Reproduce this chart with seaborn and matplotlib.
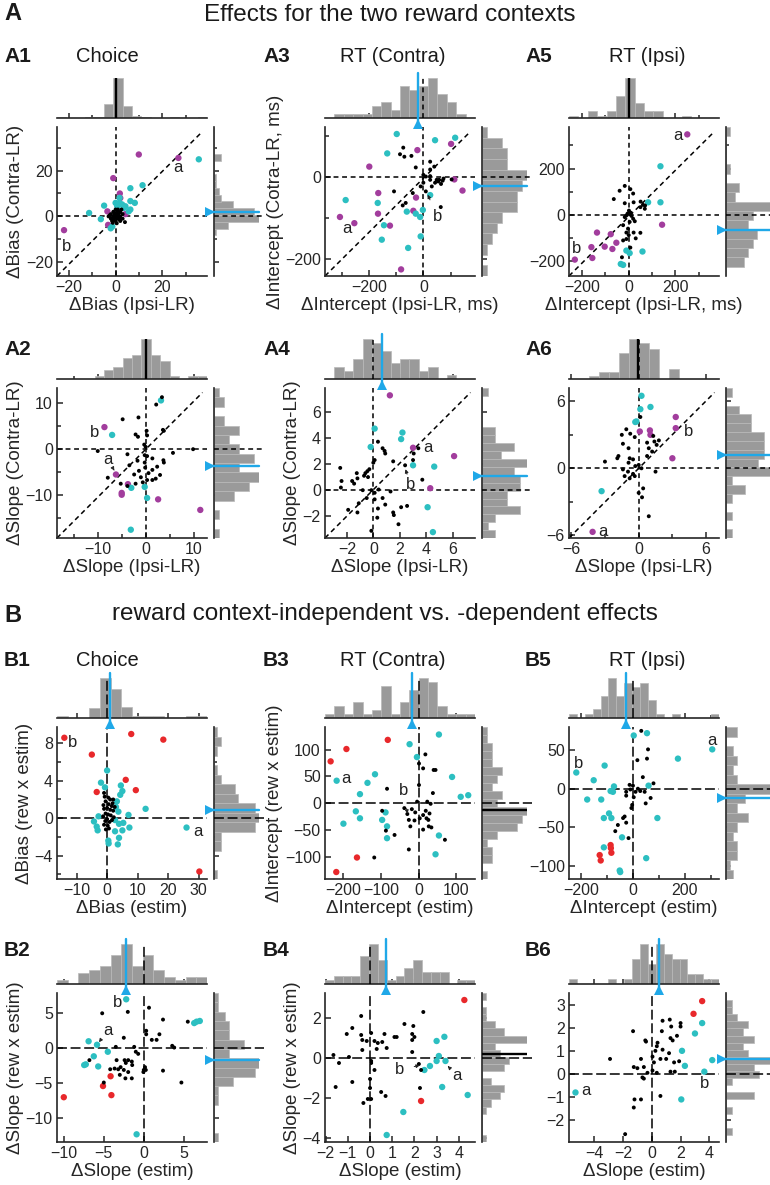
"""
Scatter panels with marginal histograms: reward-context effects (A) and
reward context-independent vs. -dependent effects (B).
"""

import matplotlib
matplotlib.use("Agg")
import matplotlib.pyplot as plt
import matplotlib.transforms as mtransforms
from matplotlib.ticker import FixedLocator, MultipleLocator, NullLocator
import seaborn as sns
import pandas as pd

FIG_W, FIG_H = 770, 1185

CYAN = "#2cbfc1"
MAGENTA = "#a23d9d"
RED = "#e8282b"
BLUE = "#1fa8e8"
GRAY = "#9a9a9a"
EDGE = "#b8b8b8"

# ---------------------------------------------------------------- data
a1_black = [(-1, 0), (0, 1), (1, -1), (-2, 1), (2, 2), (0, -2), (-1, -1), (1, 1), (0.5, 0), (-0.5, 0.5),
            (3, -1), (2, -2), (-3, 0), (1, 3), (0, 3), (-1, 2), (2, 0), (-2, -1), (0.5, -3), (1.5, -0.5),
            (-1.5, -2), (4, -2.5), (3, 1), (-0.5, 1.5), (0.3, -0.7), (1.2, 0.8), (-2.5, 0.5), (0.8, 2.2),
            (-0.8, -0.3), (1.8, -1.5), (0, 0), (-1.2, -2.8), (2.5, 3)]
a1_cyan = [(35.5, 24.9), (11.5, 13.6), (6.3, 12.3), (-11.3, 1.5), (-4.9, 4.7), (-6.3, -1.2), (1.7, 8.1),
           (1.7, 5.9), (4.2, 4.4), (6.3, 6.7), (8.2, 5.9), (6.3, 3), (5.6, 2.2), (0.7, 4.4), (0, 5.9),
           (-1.4, -4.4), (-2.1, -5.2), (2.8, 5.2), (3.5, 3.7)]
a1_magenta = [(9.9, 27), (26.8, 25.5), (-1, 16.7), (-22, -6), (1.8, 10), (-3.5, 2.2), (-3.2, -3.7),
              (4.2, 1), (2, 8)]

a2_black = [(3.4, 11.2), (2.2, 9.6), (-4.8, 6.4), (-1.5, 6.8), (-2.1, 3.1), (-1.6, 2.6), (0.2, 3.9),
            (0.3, 2.9), (3.6, 4.1), (3.8, 3.9), (-10, -0.5), (5.7, -0.9), (9.9, -0.1), (-3.8, -1.2),
            (-0.2, -1.4), (0.3, -1.6), (-0.2, -3), (-3.4, -3.6), (-1.7, -2.6), (1.4, -2.1), (3.7, -2.5),
            (3.8, -3), (2.4, -3.9), (-0.1, -4.1), (1.4, -4.6), (-1.4, -4.8), (0.6, -5.3), (3, -5.7),
            (-2.4, -5.6), (-1, -6.2), (0.3, -6.8), (1.4, -6.8), (2.1, -6.5), (-7.9, -6.3), (-5.2, -7.6),
            (-0.6, -7.3), (-2.1, -7.6), (-3.8, -8.1), (-0.3, 0.9), (0, 0.4)]
a2_cyan = [(-7, 3), (3.2, 10.5), (-3, -8.5), (-0.2, -8.3), (0.3, -10.7), (-3.1, -17.6)]
a2_magenta = [(-8.6, 4.7), (-6.2, -5.6), (-3.7, -7.7), (-5, -10), (-5, -9.6), (2.6, -11), (11.4, -13.3)]

a3_black = [(-74, 71), (-86, 55), (-70, 49), (-44, 51), (25, 37), (40, 25), (-28, 23), (25, 18), (0, 5),
            (9, 1), (25, 2), (0, -14), (25, -7), (49, -7), (55, -11), (65, -17), (58, -7), (71, -9),
            (74, -4), (104, -6), (31, -23), (9, -35), (-39, -39), (-108, -35), (-65, -63), (-76, -69),
            (64, -73), (-10, -23), (43, -14)]
a3_cyan = [(-98, 104), (43, 89), (117, 95), (-133, 57), (-286, -56), (-168, -63), (25, -44), (-61, -84),
           (-28, -89), (-12, -97), (-2, -80), (-145, -117), (-153, -152), (-10, -144), (-56, -172)]
a3_magenta = [(102, 80), (-199, 25), (-22, 65), (114, -6), (144, -33), (-166, -39), (-167, -89),
              (-307, -97), (-254, -112), (-123, -118), (-27, -50), (-37, -82), (-82, -224)]

a4_black = [(0.35, 3.7), (0.7, 3.2), (0.85, 3), (0.9, 2.8), (3.4, 3.2), (3.05, 2.8), (3, 2.3), (1.5, 2.2),
            (0.1, 2.3), (0, 2.1), (2.4, 1.9), (3.7, 0.8), (-2.5, 1.7), (-1.25, 1.3), (-0.6, 1.3),
            (-0.45, 1.45), (-0.3, 1.6), (-0.7, 1.1), (-0.4, 1), (-1.2, 0.9), (-2.4, 0.7), (-1.6, 0.7),
            (-1.45, 0.5), (-2.45, 0.2), (-0.8, 0), (-0.15, 0), (0.1, -0.2), (0.4, 0.05), (1.3, -0.1),
            (0.7, -0.6), (0.9, -1.1), (1.5, -1.7), (1.55, -1.9), (2.1, -1.3), (2.55, -1.2), (-1.9, -1.5),
            (-1.2, -1.7), (-1.1, -1), (0.3, -2.1), (1.9, -2.6), (-0.15, -3.1), (0.1, -0.7), (0.35, -1.4),
            (-0.5, -0.6)]
a4_cyan = [(0.1, 4.7), (2.2, 4.4), (2.1, 3.9), (-0.2, 3.3), (3, 1.9), (4.6, 1.8), (4.1, -1.3), (4.5, -3.2)]
a4_magenta = [(1.25, 7.24), (3, 3.24), (6.1, 2.6), (4.3, 0.15)]

a5_black = [(-17, 125), (-39, 104), (7, 111), (19, 92), (-64, 68), (-17, 50), (21, 54), (51, 57), (61, 43),
            (50, 33), (69, 26), (1, 18), (9, 9), (-10, -3), (-17, -10), (19, -17), (26, -28), (4, -31),
            (-24, -45), (-3, -60), (-10, -77), (21, -77), (50, -78), (30, -102), (0, -88), (-10, -105),
            (-24, -111), (7, -142), (-29, -184), (70, 40), (-5, 5), (12, -5)]
a5_cyan = [(136, 210), (83, 54), (136, 54), (-10, -155), (4, -166), (59, -159), (-34, -213), (-24, -217)]
a5_magenta = [(251, 348), (-231, -194), (-156, -187), (-160, -140), (-136, -77), (-103, -138), (-77, -84),
              (-70, -148), (-53, -121), (143, -43)]

a6_black = [(0.15, 4.6), (-1.5, 3), (-1.1, 3.5), (-0.75, 3.1), (-0.35, 2.8), (-1.4, 2.2), (-0.9, 1.8),
            (0.75, 2.3), (0.9, 1.8), (1.4, 2.4), (1.8, 2.5), (1.6, 2.1), (1.2, 1.5), (0.75, 1.1), (-1.8, 1.1),
            (-1.9, 0.9), (-3, 0.6), (-0.8, 0.9), (-0.5, 0.8), (-0.9, 0.5), (0, 0.3), (-0.3, 0.2), (0.25, 0),
            (-1.4, -0.1), (-0.95, -0.3), (-1.25, -0.7), (-0.8, -0.9), (-0.35, -0.7), (-0.5, -0.5),
            (1.5, -0.3), (0.4, -1.8), (0.3, -2.6), (0, -2.2), (0.9, -4.3), (1.3, 2.9)]
a6_cyan = [(0.25, 6.5), (0.15, 5.3), (1.05, 5.5), (-0.3, 4.15), (-0.2, 4.2), (-3.3, -2.05)]
a6_magenta = [(3.3, 4.6), (3.3, 3.6), (0.1, 3.3), (1, 3.4), (1.05, 3), (3, 0.9), (-4.1, -5.7)]

b1_black = [(-1, 2.7), (1, 2), (2, 2), (-0.5, 1.8), (0.5, 1.5), (1.5, 1.3), (-1, 1), (0, 1.1), (1, 0.9),
            (2, 0.8), (-0.5, 0.5), (0.3, 0.4), (1.2, 0.3), (-1.3, 0.2), (2.2, 0.1), (0, -0.1), (-0.6, -0.3),
            (0.8, -0.4), (1.6, -0.2), (-1, -0.7), (0.2, -0.8), (-0.4, -1.2), (0.6, -1.1), (-0.8, 2.3),
            (0.4, 2.2), (1.8, 1.6), (-1.2, 1.4), (2.5, 1.2)]
b1_cyan = [(0, 5.1), (-2, 3.8), (-0.7, 3.3), (4.5, 3.5), (5, 2.9), (4.3, 2.5), (3.2, 1.8), (2.9, 1.2),
           (3.7, 0.7), (7, 0.35), (12.6, 1), (-2.8, 0.2), (-4.3, -0.35), (-3.4, -0.9), (-3.1, -1.3),
           (2.6, -0.2), (3.9, -0.6), (5.3, -0.5), (7.3, -1), (5, -1.3), (2.6, -1.4), (3.9, -2.1),
           (0.4, -2.4), (26, -1), (0.5, -2.7), (3.5, -2.8)]
b1_red = [(-14, 8.6), (7.9, 9), (18.4, 8.4), (-5, 6.8), (6.1, 4.1), (-3.4, 2.8), (9.4, 3), (30.2, -5.7)]

b2_black = [(-5.2, 4.9), (-2, 5.1), (0.65, 5.7), (2.4, 4), (0.3, 2.4), (0.3, 1.9), (1.95, 1.9), (1, 1.1),
            (1.6, 1.1), (5.5, 3.7), (-2.5, 1.4), (-3.5, 0.1), (-1.2, 0.1), (-1, -0.6), (-0.7, -0.9),
            (3.55, 0.25), (3.8, 0), (-6.8, -1.8), (-3.4, -1.8), (-2.4, -1.8), (-1.95, -1.8), (-1.5, -2),
            (-2.25, -2.2), (-1.45, -2.5), (-2.9, -2.8), (-3.65, -3), (-4.2, -3.1), (-3.2, -3.1), (-2.5, -3.2),
            (-1.95, -3.5), (-1.5, -4.4), (-2.3, -4.4), (-3, -3.9), (0, -3.2), (0.15, -2.8), (0.25, -3.2),
            (-0.05, -3.5), (2.4, -3.3), (4.7, -5), (-5, -5)]
b2_cyan = [(-2.2, 6.9), (-6.9, 0.9), (-5.85, 0.4), (-4.5, -0.6), (-6.25, -1.25), (-7.25, -2.4),
           (-7.45, -2.5), (-5.7, -2.7), (-0.9, -12.4), (6.3, 3.5), (6.6, 3.7), (7, 3.8)]
b2_red = [(-10, -7.1), (-5.1, -5.5), (-4.15, -4.1), (-4.05, -6.8)]

b3_black = [(18, 91), (1, 74), (12, 65), (40, 62), (45, 62), (1, 34), (-84, 27), (38, 19), (-4, 3), (23, 3),
            (32, -1), (-18, -11), (-38, -9), (-97, -14), (-30, -20), (-9, -17), (19, -14), (12, -22),
            (29, -19), (21, -28), (26, -31), (-26, -31), (-11, -32), (3, -28), (-22, -43), (12, -49),
            (27, -43), (34, -45), (-87, -51), (-64, -59), (70, -68), (-118, -101), (-26, -86)]
b3_cyan = [(54, 128), (-24, 110), (-4.5, 86), (-218, 42), (-116, 54), (-136, 38), (-156, 17), (89, 49),
           (112, 12), (132, 15), (-167, -15), (-156, -28), (-200, -38), (-88, -17), (-97, -31), (-84, -43),
           (-84, -65), (54, -60), (45, -95)]
b3_red = [(-234, 78), (-192, 101), (-82, 118), (-219, -128), (-164, -101)]

b4_black = [(2.4, 2.3), (-0.4, 2.1), (1.55, 1.7), (1.95, 1.6), (-0.8, 1.5), (-1.05, 1.2), (-0.4, 1.15),
            (0.05, 1.25), (0.65, 1.2), (1.1, 1.05), (1.2, 1.05), (1.9, 1.2), (2, 1.05), (1.9, 0.9),
            (-0.35, 0.9), (-0.15, 0.85), (0.2, 0.85), (0.35, 0.75), (0.55, 0.8), (0.3, 0.45), (0.75, 0.5),
            (-0.35, 0.4), (1.9, 0.3), (-1.65, 0.15), (-0.95, 0.05), (-1.4, -0.25), (0.05, -0.15),
            (0.05, -0.25), (0.2, -0.6), (2.2, -0.3), (2.3, -0.6), (-0.8, -1.2), (-1.55, -1.45), (2.25, -1.5),
            (0, -1.5), (-0.1, -2.05), (0.05, -2.05), (0.5, -1.7), (0.7, -1.9), (-0.3, -2.25), (0, -1.05)]
b4_cyan = [(3.35, 1.06), (3, 0.85), (3.1, 0.1), (3.4, -0.15), (3, -0.15), (2.7, -0.4), (2.45, -0.6),
           (3.25, -1.45), (4.4, -1.85), (1.5, -2.7), (0.75, -3.85)]
b4_red = [(4.25, 2.9), (2.3, -2.15)]

b5_black = [(32, 75), (58, 51), (54, 39), (17, 37), (38, 15), (79, 7), (-13, 5), (0, 4), (19, 0), (-26, -4),
            (-10, -1), (10, -4), (28, -3), (45, -4), (-26, -9), (3, -11), (68, -12), (49, -19), (-3, -21),
            (-6, -25), (-32, -36), (-38, -38), (-26, -44), (-68, -55), (-17, -64), (-58, -47)]
b5_cyan = [(305, 51), (173, 39), (3, 69), (54, 72), (-218, 21), (-109, 30), (-151, 11), (-176, -14),
           (-122, -14), (-73, 3), (-86, -3), (-77, -4), (60, 4), (94, -38), (-92, -32), (-112, -38),
           (-83, -38), (-42, -63), (-112, -76), (51, -90), (-51, -106), (-49, -108)]
b5_red = [(-86, -73), (-83, -83), (-128, -86), (-124, -93), (-85, -77)]

b6_black = [(0.75, 2.3), (1.25, 2.35), (1.35, 2.05), (2, 2.2), (2, 2.05), (1.75, 1.65), (1.3, 1.55),
            (1.45, 1.45), (0.7, 1.85), (-1.3, 1.85), (-0.45, 1.45), (-0.4, 1.4), (0.4, 1.35), (0.35, 1.2),
            (0.25, 1), (0.75, 1.05), (1.2, 0.9), (1.9, 0.55), (1.55, 0.5), (1, 0.65), (0.05, 0.75),
            (0.15, 0.5), (0.6, 0.65), (-0.75, 0.65), (-2.9, 0.65), (-1.25, 0.3), (-1, 0.25), (-0.55, 0.3),
            (-0.3, 0.05), (-0.65, -0.15), (-0.55, -0.2), (0.05, 0.15), (0.35, 0.05), (1.3, 0.1), (1.6, 0.1),
            (-1.2, -1.1), (-0.75, -1.1), (-1.25, -1.45), (0.6, -0.95), (-1.85, -2.6)]
b6_cyan = [(3.5, 2.2), (3, 1.75), (2.1, 1), (2.3, 0.35), (4.2, 0.6), (3.65, 0.1), (2.05, -1.1), (-5.3, -0.8)]
b6_red = [(3.5, 3.15), (2.9, 2.6)]

panel_names = ["A1", "A2", "A3", "A4", "A5", "A6", "B1", "B2", "B3", "B4", "B5", "B6"]
black_pts = [a1_black, a2_black, a3_black, a4_black, a5_black, a6_black,
             b1_black, b2_black, b3_black, b4_black, b5_black, b6_black]
cyan_pts = [a1_cyan, a2_cyan, a3_cyan, a4_cyan, a5_cyan, a6_cyan,
            b1_cyan, b2_cyan, b3_cyan, b4_cyan, b5_cyan, b6_cyan]
accent_pts = [a1_magenta, a2_magenta, a3_magenta, a4_magenta, a5_magenta, a6_magenta,
              b1_red, b2_red, b3_red, b4_red, b5_red, b6_red]

# population means shown on the marginal histograms (blue = significant)
top_means = [0.3, 0, -21, 0.63, 0, -0.1, 1.0, -2.2, -17, 0.7, -26, 0.5]
top_signif = [False, False, True, True, False, False, True, True, True, True, True, True]
side_means = [1.9, -3.7, -23, 1.1, -64, 1.15, 0.85, -1.8, -13, 0.2, -12, 0.65]
side_signif = [True, True, True, True, True, True, True, True, False, False, True, True]

x_labels = ["ΔBias (Ipsi-LR)", "ΔSlope (Ipsi-LR)", "ΔIntercept (Ipsi-LR, ms)", "ΔSlope (Ipsi-LR)",
            "ΔIntercept (Ipsi-LR, ms)", "ΔSlope (Ipsi-LR)",
            "ΔBias (estim)", "ΔSlope (estim)", "ΔIntercept (estim)", "ΔSlope (estim)",
            "ΔIntercept (estim)", "ΔSlope (estim)"]
y_labels = ["ΔBias (Contra-LR)", "ΔSlope (Contra-LR)", "ΔIntercept (Cotra-LR, ms)", "ΔSlope (Contra-LR)",
            "", "", "ΔBias (rew x estim)", "ΔSlope (rew x estim)", "ΔIntercept (rew x estim)",
            "ΔSlope (rew x estim)", "", ""]
col_titles = ["Choice", "RT (Contra)", "RT (Ipsi)"]

x_ticks = [[-20, 0, 20], [-10, 0, 10], [-200, 0], [-2, 0, 2, 4, 6], [-200, 0, 200], [-6, 0, 6],
           [-10, 0, 10, 20, 30], [-10, -5, 0, 5], [-200, -100, 0, 100], [-2, -1, 0, 1, 2, 3, 4],
           [-200, 0, 200], [-4, -2, 0, 2, 4]]
y_ticks = [[-20, 0, 20], [-10, 0, 10], [-200, 0], [-2, 0, 2, 4, 6], [-200, 0, 200], [-6, 0, 6],
           [-4, 0, 4, 8], [-10, -5, 0, 5], [-100, -50, 0, 50, 100], [-4, -2, 0, 2],
           [-100, -50, 0, 50], [-2, -1, 0, 1, 2, 3]]
x_minor = [10, 5, 100, None, 100, 3, None, None, None, None, 100, None]
y_minor = [10, 5, 100, None, 100, 3, 2, None, None, None, None, None]

x_lims = [(-25, 39), (-18.5, 12.8), (-362, 190), (-3.65, 7.68), (-256, 387), (-6.2, 7.15),
          (-16.4, 32.7), (-10.85, 7.9), (-249, 150), (-2.03, 4.73), (-246, 331), (-5.75, 4.67)]
y_lims = [(-26, 39), (-19.4, 13.2), (-240, 121), (-3.65, 7.8), (-265, 380), (-6.25, 7.2),
          (-6.5, 9.75), (-13.5, 7.8), (-141, 142), (-4.2, 3.25), (-117, 80), (-2.94, 3.5)]
x_binw = [4, 2, 35, 0.7, 40, 0.9, 3.5, 1.3, 25, 0.4, 30, 0.55]
y_binw = [3, 2, 25, 0.6, 40, 0.8, 1, 1.3, 15, 0.35, 12, 0.3]

# letter annotations: (letter, text x, text y, arrow target or None)
notes = {
    "A1": [("a", 26.8, 21.5, None), ("b", -21, -13.3, None)],
    "A2": [("b", -10.7, 3.6, None), ("a", -7.9, -2.3, (-6.4, -5.0))],
    "A3": [("a", -282, -124, None), ("b", 52, -97, (14, -40))],
    "A4": [("a", 4.1, 3.25, None), ("b", 2.8, 0.4, (2.4, 1.7))],
    "A5": [("a", 209, 343, None), ("b", -224, -148, None)],
    "A6": [("a", -3.2, -5.65, None), ("b", 4.4, 3.3, None)],
    "B1": [("b", -11.2, 8.05, None), ("a", 29.7, -1.4, None)],
    "B2": [("b", -3.3, 6.5, None), ("a", -4.5, 2.5, (-5.7, 0.6))],
    "B3": [("a", -194, 46, None), ("b", -40, 23, (-29, -22))],
    "B4": [("b", 1.33, -0.6, (2.3, -0.35)), ("a", 3.9, -0.85, (3.5, -0.4))],
    "B5": [("a", 303, 63, None), ("b", -209, 33, None)],
    "B6": [("a", -4.6, -0.73, None), ("b", 3.7, -0.4, None)],
}

# ---------------------------------------------------------------- layout (pixels)
COL_LEFT = [57, 325, 569]
ROW_TOP = [127, 388, 727, 993]
ROW_H = [149, 150, 152, 149]
COL_TEXT_X = [107, 393, 647]
LABEL_X = [4, 263, 525]


def setup_style():
    sns.set_style("ticks")
    plt.rcParams["font.family"] = ["Liberation Sans", "DejaVu Sans"]
    plt.rcParams["axes.linewidth"] = 1.2
    plt.rcParams["text.color"] = "#1a1a1a"


def add_axes_px(fig, left, top, width, height, **kw):
    return fig.add_axes([left / FIG_W, 1 - (top + height) / FIG_H, width / FIG_W, height / FIG_H], **kw)


def draw_panel(fig, i):
    name = panel_names[i]
    section_b = name.startswith("B")
    col = (i % 6) // 2
    row = (i // 6) * 2 + (i % 2)
    left, top, h = COL_LEFT[col], ROW_TOP[row], ROW_H[row]
    dash = (0, (6.5, 2.4)) if section_b else (0, (3.2, 2.4))
    accent = RED if section_b else MAGENTA

    ax = add_axes_px(fig, left, top, 150, h)
    ax_top = add_axes_px(fig, left, top - 49, 150, 40, sharex=ax)
    ax_side = add_axes_px(fig, left + 157, top, 45, h, sharey=ax)

    df = pd.concat([
        pd.DataFrame(accent_pts[i], columns=["x", "y"]).assign(group="accent"),
        pd.DataFrame(cyan_pts[i], columns=["x", "y"]).assign(group="cyan"),
        pd.DataFrame(black_pts[i], columns=["x", "y"]).assign(group="black"),
    ], ignore_index=True)

    sns.scatterplot(data=df, x="x", y="y", hue="group", size="group",
                    palette={"accent": accent, "cyan": CYAN, "black": "black"},
                    sizes={"accent": 21, "cyan": 21, "black": 8},
                    linewidth=0, legend=False, ax=ax, zorder=3)

    # marginal histograms
    sns.histplot(x=df["x"], binwidth=x_binw[i], binrange=x_lims[i], ax=ax_top,
                 color=GRAY, edgecolor=EDGE, linewidth=0.5, alpha=1)
    sns.histplot(y=df["y"], binwidth=y_binw[i], binrange=y_lims[i], ax=ax_side,
                 color=GRAY, edgecolor=EDGE, linewidth=0.5, alpha=1)

    ax.set_xlim(*x_lims[i])
    ax.set_ylim(*y_lims[i])
    ax_top.set_ylim(0, ax_top.get_ylim()[1] / 1.04)
    ax_side.set_xlim(0, ax_side.get_xlim()[1] / 1.04)

    # reference lines
    ax.axvline(0, color="black", ls=dash, lw=1.1, zorder=1)
    ax.axhline(0, color="black", ls=dash, lw=1.1, zorder=1)
    if not section_b:
        ax.plot([0, 0.97], [0, 0.97], transform=ax.transAxes, color="black", ls=dash, lw=1.1, zorder=1)
    ax_top.axvline(0, color="black", ls=dash, lw=1.1, zorder=3)
    side_tr = mtransforms.blended_transform_factory(ax_side.transAxes, ax_side.transData)
    ax_side.plot([0, 1.12], [0, 0], transform=side_tr, color="black", ls=dash, lw=1.1,
                 clip_on=False, zorder=3)

    # mean markers
    top_tr = mtransforms.blended_transform_factory(ax_top.transData, ax_top.transAxes)
    m = top_means[i]
    if top_signif[i]:
        ax_top.plot([m, m], [1.12, -0.18], transform=top_tr, color=BLUE, lw=1.7, clip_on=False, zorder=5)
        ax.plot([m], [1.022], marker="^", ms=6.5, color=BLUE, mew=0,
                transform=mtransforms.blended_transform_factory(ax.transData, ax.transAxes),
                clip_on=False, zorder=6)
    else:
        ax_top.plot([m, m], [0, 1], transform=top_tr, color="black", lw=1.7, zorder=5)

    m = side_means[i]
    if side_signif[i]:
        ax_side.plot([-0.16, 1.0], [m, m], transform=side_tr, color=BLUE, lw=1.7, clip_on=False, zorder=5)
        ax.plot([1.022], [m], marker=">", ms=6.5, color=BLUE, mew=0,
                transform=mtransforms.blended_transform_factory(ax.transAxes, ax.transData),
                clip_on=False, zorder=6)
    else:
        ax_side.plot([0, 1.0], [m, m], transform=side_tr, color="black", lw=1.7, zorder=5)

    # ticks and spines
    ax.xaxis.set_major_locator(FixedLocator(x_ticks[i]))
    ax.yaxis.set_major_locator(FixedLocator(y_ticks[i]))
    ax.xaxis.set_minor_locator(MultipleLocator(x_minor[i]) if x_minor[i] else NullLocator())
    ax.yaxis.set_minor_locator(MultipleLocator(y_minor[i]) if y_minor[i] else NullLocator())
    ax.tick_params(which="major", direction="in", length=4, width=1.1, labelsize=11.5, pad=3)
    ax.tick_params(which="minor", direction="in", length=3, width=1.1)
    sns.despine(ax=ax)

    ax_top.tick_params(axis="x", which="both", direction="in", width=1.1, labelbottom=False)
    ax_top.tick_params(axis="y", left=False, labelleft=False)
    sns.despine(ax=ax_top, left=True)
    ax_top.set_xlabel("")
    ax_top.set_ylabel("")

    ax_side.tick_params(axis="y", which="both", direction="in", width=1.1, labelleft=False)
    ax_side.tick_params(axis="x", bottom=False, labelbottom=False)
    sns.despine(ax=ax_side, bottom=True)
    ax_side.set_xlabel("")
    ax_side.set_ylabel("")

    ax.set_xlabel(x_labels[i], fontsize=13.5, labelpad=1)
    ax.set_ylabel(y_labels[i], fontsize=13.5, labelpad=1)

    for letter, tx, ty, target in notes[name]:
        if target is None:
            ax.text(tx, ty, letter, ha="center", va="center", fontsize=12, color="#222222", zorder=7)
        else:
            ax.annotate(letter, xy=target, xytext=(tx, ty), ha="center", va="center",
                        fontsize=12, color="#222222", zorder=7,
                        arrowprops=dict(arrowstyle="-|>", lw=0.7, color="#222222",
                                        mutation_scale=5, shrinkA=5, shrinkB=1))

    # panel label, and column title for the first row of each section
    label_y = [57, 350, 660, 950][row]
    fig.text(LABEL_X[col] / FIG_W, 1 - label_y / FIG_H, name, fontsize=15, fontweight="bold",
             ha="left", va="center")
    if row in (0, 2):
        fig.text(COL_TEXT_X[col] / FIG_W, 1 - label_y / FIG_H, col_titles[col], fontsize=14.5,
                 ha="center", va="center")


def main():
    setup_style()
    fig = plt.figure(figsize=(FIG_W / 100, FIG_H / 100), dpi=100)

    fig.text(4 / FIG_W, 1 - 13 / FIG_H, "A", fontsize=17, fontweight="bold", ha="left", va="center")
    fig.text(390 / FIG_W, 1 - 15 / FIG_H, "Effects for the two reward contexts", fontsize=17.5,
             ha="center", va="center")
    fig.text(4 / FIG_W, 1 - 615 / FIG_H, "B", fontsize=17, fontweight="bold", ha="left", va="center")
    fig.text(385 / FIG_W, 1 - 614 / FIG_H, "reward context-independent vs. -dependent effects",
             fontsize=17.5, ha="center", va="center")

    for i in range(len(panel_names)):
        draw_panel(fig, i)

    fig.savefig("out.png", dpi=100)
    plt.close(fig)


if __name__ == "__main__":
    main()
